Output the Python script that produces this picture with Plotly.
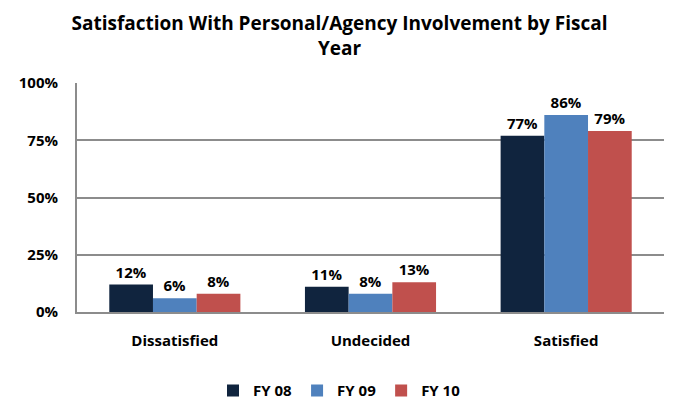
import plotly.graph_objects as go

categories = ["Dissatisfied", "Undecided", "Satisfied"]
fy08 = [0.12, 0.11, 0.77]
fy09 = [0.06, 0.08, 0.86]
fy10 = [0.08, 0.13, 0.79]

series = [("FY 08", fy08, "#10243E"), ("FY 09", fy09, "#4F81BD"), ("FY 10", fy10, "#C0504D")]

fig = go.Figure()
for name, vals, col in series:
    fig.add_trace(go.Bar(
        x=categories, y=vals, name=f"<b>{name}</b>",
        marker=dict(color=col, line=dict(width=0)),
        text=[f"<b>{round(v*100)}%</b>" for v in vals],
        textposition="outside",
        textfont=dict(family="Open Sans", size=15, color="black"),
        cliponaxis=False,
    ))

fig.update_layout(
    title=dict(text="<b>Satisfaction With Personal/Agency Involvement by Fiscal<br>Year</b>",
               x=0.5, xanchor="center", y=0.925, yanchor="middle", yref="container",
               font=dict(family="Open Sans", size=19, color="black")),
    barmode="group", bargap=0.33, bargroupgap=0,
    width=679, height=402,
    margin=dict(l=77, r=15, t=83, b=90),
    paper_bgcolor="white", plot_bgcolor="white",
    font=dict(family="Open Sans", size=15, color="black"),
    yaxis=dict(range=[0, 1], dtick=0.25, tickformat=".0%",
               tickprefix="<b>", ticksuffix="</b>",
               showgrid=True, gridcolor="#8C8C8C", gridwidth=2,
               showline=True, linecolor="#8C8C8C", linewidth=2,
               zeroline=False, ticks="", tickfont=dict(size=15),
               ticklabelstandoff=14, automargin=False),
    xaxis=dict(showline=True, linecolor="#8C8C8C", linewidth=2, ticks="",
               tickvals=categories, ticktext=[f"<b>{c}</b>" for c in categories],
               tickfont=dict(size=15), ticklabelstandoff=14, automargin=False),
    legend=dict(orientation="h", x=0.5, xanchor="center", xref="container",
                y=0.028, yanchor="middle", yref="container",
                font=dict(size=15), traceorder="normal", itemwidth=30),
)

# page has a default 8px body margin; drop it so the figure sits at the corner
fig.write_html("out.html", config={"displayModeBar": False},
               post_script="document.body.style.margin='0';")
